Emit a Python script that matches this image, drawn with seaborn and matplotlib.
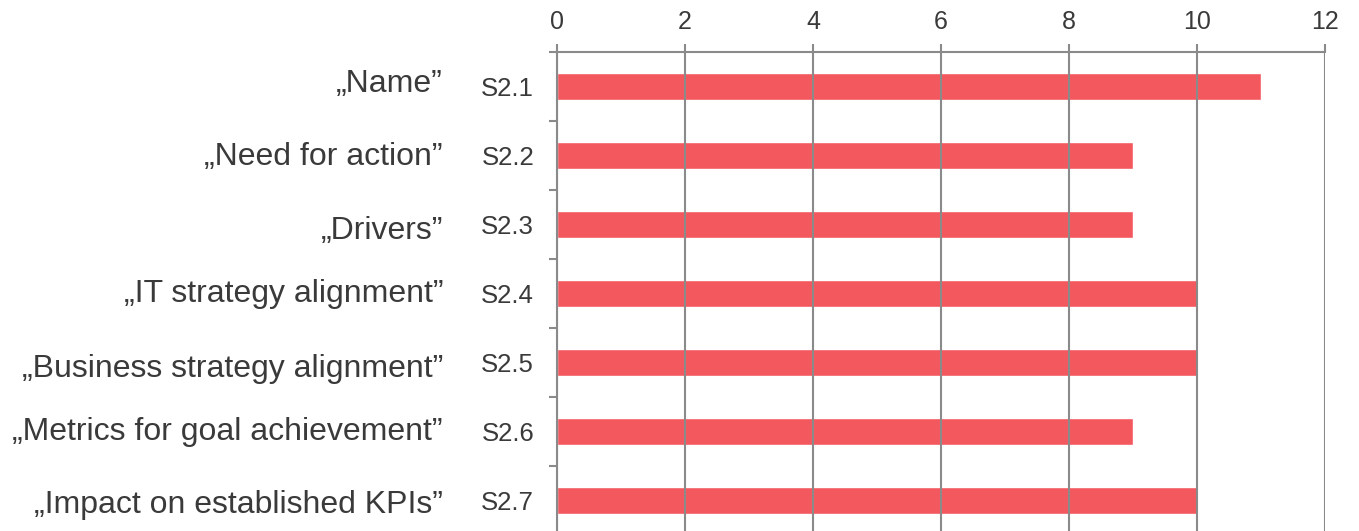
import matplotlib
matplotlib.use("Agg")
import matplotlib.pyplot as plt
import matplotlib.transforms as mtransforms
import seaborn as sns
import pandas as pd

# ---- data ----
codes = ["S2.1", "S2.2", "S2.3", "S2.4", "S2.5", "S2.6", "S2.7"]
descriptions = [
    "\u201eName\u201d",
    "\u201eNeed for action\u201d",
    "\u201eDrivers\u201d",
    "\u201eIT strategy alignment\u201d",
    "\u201eBusiness strategy alignment\u201d",
    "\u201eMetrics for goal achievement\u201d",
    "\u201eImpact on established KPIs\u201d",
]
counts = [11, 9, 9, 10, 10, 9, 10]
x_ticks = [0, 2, 4, 6, 8, 10, 12]

# ---- layout (not data) ----
desc_baseline_offsets = [0.084, 0.138, 0.21, 0.119, 0.206, 0.123, 0.186]
BAR_COLOR = "#F2585E"
GRID_COLOR = "#8A8A8A"
TEXT_COLOR = "#3A3A3A"

sns.set_style("white")
plt.rcParams["font.family"] = ["Liberation Sans", "DejaVu Sans"]

W, H = 1359, 531
fig = plt.figure(figsize=(W / 100, H / 100), dpi=100)
ax_left, ax_right, ax_top, ax_bottom = 557, 1325, 52, 535
ax = fig.add_axes([ax_left / W, (H - ax_bottom) / H,
                   (ax_right - ax_left) / W, (ax_bottom - ax_top) / H])

df = pd.DataFrame({"code": codes, "count": counts})
sns.barplot(data=df, x="count", y="code", orient="h", color=BAR_COLOR,
            saturation=1, width=0.4, ax=ax)

ax.set_xlim(0, 12)
ax.set_ylim(len(codes) - 0.5, -0.5)
ax.set_xlabel("")
ax.set_ylabel("")

ax.xaxis.tick_top()
ax.set_xticks(x_ticks)
ax.set_xticklabels([str(t) for t in x_ticks])
ax.set_axisbelow(False)
ax.grid(axis="x", color=GRID_COLOR, linewidth=1.5)
ax.grid(axis="y", visible=False)

for s in ["right", "bottom"]:
    ax.spines[s].set_visible(False)
for s in ["left", "top"]:
    ax.spines[s].set_visible(True)
    ax.spines[s].set_color(GRID_COLOR)
    ax.spines[s].set_linewidth(1.5)

ax.tick_params(axis="x", which="major", top=True, bottom=False, labeltop=True,
               labelbottom=False, length=5.8, width=1.5, color=GRID_COLOR,
               labelsize=18, labelcolor=TEXT_COLOR, pad=7, direction="out")
ax.tick_params(axis="y", which="major", left=True, length=0, labelsize=18.5,
               labelcolor=TEXT_COLOR, pad=16.5)
ax.set_yticks([i - 0.5 for i in range(len(codes) + 1)], minor=True)
ax.tick_params(axis="y", which="minor", left=True, length=5.8, width=1.5,
               color=GRID_COLOR, direction="out")

trans = mtransforms.blended_transform_factory(ax.transAxes, ax.transData)
x_desc = (443 - ax_left) / (ax_right - ax_left)
for i, d in enumerate(descriptions):
    ax.text(x_desc, i + desc_baseline_offsets[i], d, transform=trans,
            ha="right", va="baseline", fontsize=23, color=TEXT_COLOR,
            clip_on=False)

fig.savefig("out.png", dpi=100)
